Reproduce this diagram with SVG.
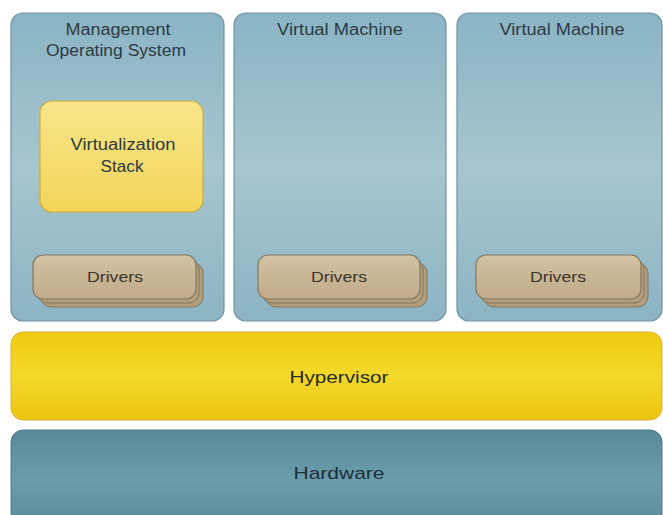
<svg xmlns="http://www.w3.org/2000/svg" width="663" height="515" viewBox="0 0 663 515">
<style>
text{font-family:"Liberation Sans",Arial,sans-serif;text-anchor:middle;fill:#2f3a40}
.t16{font-size:16px}
.big{font-size:17px;fill:#2a2a20}
.pane{fill:url(#gPane);stroke:#6f93a2;stroke-width:1.2}
.drvB{fill:#b29d7c;stroke:#85765e;stroke-width:1}
.drvF{fill:url(#gDrv);stroke:#85765e;stroke-width:1.2}
.drvT{font-size:15px;fill:#3a3428}
</style>
<defs>
<linearGradient id="gPane" x1="0" y1="0" x2="0" y2="1">
<stop offset="0" stop-color="#8ab4c5"/>
<stop offset="0.5" stop-color="#a7c6ce"/>
<stop offset="1" stop-color="#8cb4c4"/>
</linearGradient>
<linearGradient id="gStack" x1="0" y1="0" x2="0" y2="1">
<stop offset="0" stop-color="#f8e68a"/>
<stop offset="1" stop-color="#f2d55a"/>
</linearGradient>
<linearGradient id="gDrv" x1="0" y1="0" x2="0" y2="1">
<stop offset="0" stop-color="#d3c2a4"/>
<stop offset="1" stop-color="#c0aa88"/>
</linearGradient>
<linearGradient id="gHyp" x1="0" y1="0" x2="0" y2="1">
<stop offset="0" stop-color="#efca0e"/>
<stop offset="0.5" stop-color="#f4d92c"/>
<stop offset="1" stop-color="#ebc40e"/>
</linearGradient>
<linearGradient id="gHw" x1="0" y1="0" x2="0" y2="1">
<stop offset="0" stop-color="#588897"/>
<stop offset="0.5" stop-color="#6a9dac"/>
<stop offset="1" stop-color="#5a8b9b"/>
</linearGradient>
</defs>
<rect width="663" height="515" fill="#ffffff"/>

<g id="mgmt-os">
<rect class="pane" x="11" y="13" width="213" height="308" rx="12"/>
<text class="t16" x="118" y="35" textLength="105" lengthAdjust="spacingAndGlyphs">Management</text>
<text class="t16" x="116" y="56" textLength="140" lengthAdjust="spacingAndGlyphs">Operating System</text>
</g>
<g id="virt-stack">
<rect x="40" y="101" width="163" height="111" rx="12" fill="url(#gStack)" stroke="#cfae3a" stroke-width="1.2"/>
<text class="t16" x="123" y="150" textLength="105" lengthAdjust="spacingAndGlyphs">Virtualization</text>
<text class="t16" x="122" y="172" textLength="43" lengthAdjust="spacingAndGlyphs">Stack</text>
</g>
<g id="drivers-1">
<rect class="drvB" x="41" y="263" width="162" height="44" rx="10"/>
<rect class="drvB" x="37" y="259" width="162" height="44" rx="10"/>
<rect class="drvF" x="33" y="255" width="163" height="44" rx="10"/>
<text class="drvT" x="115" y="282" textLength="56" lengthAdjust="spacingAndGlyphs">Drivers</text>
</g>

<g id="vm-1">
<rect class="pane" x="234" y="13" width="212" height="308" rx="12"/>
<text class="t16" x="340" y="35" textLength="126" lengthAdjust="spacingAndGlyphs">Virtual Machine</text>
</g>
<g id="drivers-2">
<rect class="drvB" x="266" y="263" width="161" height="44" rx="10"/>
<rect class="drvB" x="262" y="259" width="161" height="44" rx="10"/>
<rect class="drvF" x="258" y="255" width="162" height="44" rx="10"/>
<text class="drvT" x="339" y="282" textLength="56" lengthAdjust="spacingAndGlyphs">Drivers</text>
</g>

<g id="vm-2">
<rect class="pane" x="457" y="13" width="205" height="308" rx="12"/>
<text class="t16" x="562" y="35" textLength="125" lengthAdjust="spacingAndGlyphs">Virtual Machine</text>
</g>
<g id="drivers-3">
<rect class="drvB" x="484" y="263" width="164" height="44" rx="10"/>
<rect class="drvB" x="480" y="259" width="164" height="44" rx="10"/>
<rect class="drvF" x="476" y="255" width="165" height="44" rx="10"/>
<text class="drvT" x="558" y="282" textLength="56" lengthAdjust="spacingAndGlyphs">Drivers</text>
</g>

<g id="hypervisor">
<rect x="11" y="332" width="651" height="88" rx="12" fill="url(#gHyp)" stroke="#d9b53a" stroke-width="1"/>
<text class="big" x="339" y="383" textLength="99" lengthAdjust="spacingAndGlyphs">Hypervisor</text>
</g>
<g id="hardware">
<rect x="11" y="430" width="651" height="96" rx="12" fill="url(#gHw)" stroke="#4f7c8b" stroke-width="1"/>
<text class="big" x="339" y="479" textLength="91" lengthAdjust="spacingAndGlyphs" style="fill:#1f2e36">Hardware</text>
</g>
</svg>
